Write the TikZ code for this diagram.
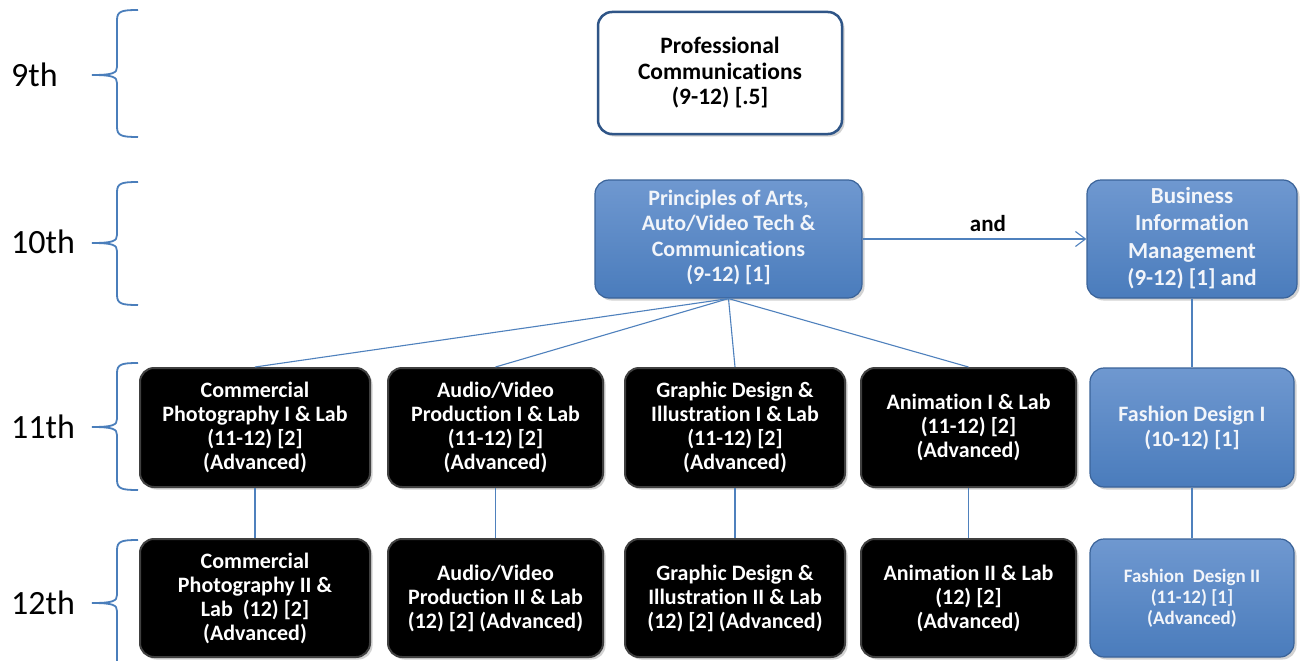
\documentclass[tikz,border=0pt]{standalone}
\usepackage{fontspec}
\setmainfont{Carlito}[Ligatures=NoCommon]
\usetikzlibrary{shadows,arrows.meta}
\definecolor{bluefill}{HTML}{4A7CBC}
\definecolor{bluetop}{HTML}{6F98D0}
\definecolor{blueedge}{HTML}{3A6399}
\definecolor{linecol}{HTML}{4F81BD}
\definecolor{bracecol}{HTML}{4A7EBB}
\definecolor{darkedge}{HTML}{2F5587}
\definecolor{boxtext}{HTML}{F2F5FA}
\newcommand{\mybrace}[3]{%
  \draw[brace] (138,#1) .. controls (122,#1) and (117,#1+1) .. (117,#1+10)
    -- (117,#2-8) .. controls (117,#2-2) and (113,#2) .. (92,#2)
    .. controls (113,#2) and (117,#2+2) .. (117,#2+8)
    -- (117,#3-10) .. controls (117,#3-1) and (122,#3) .. (138,#3);}
\tikzset{
  box/.style={rounded corners=14pt, inner sep=2pt, align=center,
    drop shadow={shadow xshift=2.5pt, shadow yshift=-2.5pt, opacity=0.35}},
  blackbox/.style={box, fill=black, draw=black!75, line width=2pt, text=white,
    minimum height=119pt, font=\bfseries\fontsize{22}{24}\selectfont},
  bluebox/.style={box, top color=bluetop, bottom color=bluefill, draw=blueedge,
    line width=1.2pt, text=boxtext, minimum height=118pt,
    font=\bfseries\fontsize{22}{25.5}\selectfont},
  whitebox/.style={box, fill=white, draw=darkedge, line width=2.5pt, text=black,
    font=\bfseries\fontsize{23.5}{25.5}\selectfont},
  conn/.style={draw=linecol, line width=1.1pt},
  brace/.style={draw=bracecol, line width=1.8pt},
  grade/.style={font=\fontsize{34}{36}\selectfont, anchor=west, inner sep=0pt},
}
\begin{document}
\begin{tikzpicture}[x=1pt,y=-1pt]
\useasboundingbox[fill=white] (0,0) rectangle (1301,661);

% grade labels and braces
\node[grade] (g9)  at (11,75)  {9th};
\node[grade] (g10) at (11,242) {10th};
\node[grade] (g11) at (11,427) {11th};
\node[grade] (g12) at (11,603) {12th};
\mybrace{10}{75}{137}
\mybrace{182}{243}{305}
\mybrace{363}{427}{490}
\mybrace{540}{603}{670}

% top boxes
\node[whitebox, minimum width=244pt, minimum height=122pt] (prof) at (720,73)
  {Professional\\Communications\\(9-12) [.5]};
\node[bluebox, minimum width=267pt] (princ) at (728.5,239)
  {\rule[-2pt]{0pt}{1pt}Principles of Arts,\\Auto/Video Tech \&\\Communications\\(9-12) [1]\rule[-6pt]{0pt}{1pt}};
\node[bluebox, minimum width=210pt, font=\bfseries\fontsize{23}{27.5}\selectfont] (bim) at (1192,239)
  {Business\\Information\\Management\\(9-12) [1] and\rule[-5pt]{0pt}{1pt}};

% row 11
\node[blackbox, minimum width=230pt] (c11a) at (255,427.5)
  {Commercial\\Photography I \& Lab\\(11-12) [2]\\(Advanced)};
\node[blackbox, minimum width=215pt] (c11b) at (495.5,427.5)
  {Audio/Video\\Production I \& Lab\\(11-12) [2]\\(Advanced)};
\node[blackbox, minimum width=220pt] (c11c) at (735,427.5)
  {Graphic Design \&\\Illustration I \& Lab\\(11-12) [2]\\(Advanced)};
\node[blackbox, minimum width=215pt] (c11d) at (968.5,427.5)
  {Animation I \& Lab\\(11-12) [2]\\(Advanced)};
\node[bluebox, minimum width=204pt, minimum height=119pt,
  font=\bfseries\fontsize{22}{25}\selectfont] (f11) at (1192,427.5)
  {Fashion Design I\\(10-12) [1]};

% row 12
\node[blackbox, minimum width=230pt, minimum height=118pt] (c12a) at (255,598)
  {Commercial\\Photography II \&\\Lab~~(12) [2]\\(Advanced)};
\node[blackbox, minimum width=215pt, minimum height=118pt] (c12b) at (495.5,598)
  {Audio/Video\\Production II \& Lab\\(12) [2] (Advanced)};
\node[blackbox, minimum width=220pt, minimum height=118pt] (c12c) at (735,598)
  {Graphic Design \&\\Illustration II \& Lab\\(12) [2] (Advanced)};
\node[blackbox, minimum width=215pt, minimum height=118pt] (c12d) at (968.5,598)
  {Animation II \& Lab\\(12) [2]\\(Advanced)};
\node[bluebox, minimum width=204pt, minimum height=118pt,
  font=\bfseries\fontsize{19}{21}\selectfont] (f12) at (1192,598)
  {Fashion~~Design II\\(11-12) [1]\\(Advanced)};

% connectors
\draw[conn, -{Straight Barb[length=10pt, width=15pt, line width=1.1pt]}]
  (princ.east) -- (bim.west)
  node[pos=0.56, above=7pt, inner sep=0pt, text=black,
       font=\bfseries\fontsize{23}{25}\selectfont] (andlbl) {and};
\foreach \n in {c11a,c11b,c11c,c11d}{
  \draw[conn] (princ.south) -- (\n.north);
}
\draw[conn] (bim.south) -- (f11.north);
\draw[conn] (c11a.south) -- (c12a.north);
\draw[conn] (c11b.south) -- (c12b.north);
\draw[conn] (c11c.south) -- (c12c.north);
\draw[conn] (c11d.south) -- (c12d.north);
\draw[conn] (f11.south) -- (f12.north);
\end{tikzpicture}
\end{document}
